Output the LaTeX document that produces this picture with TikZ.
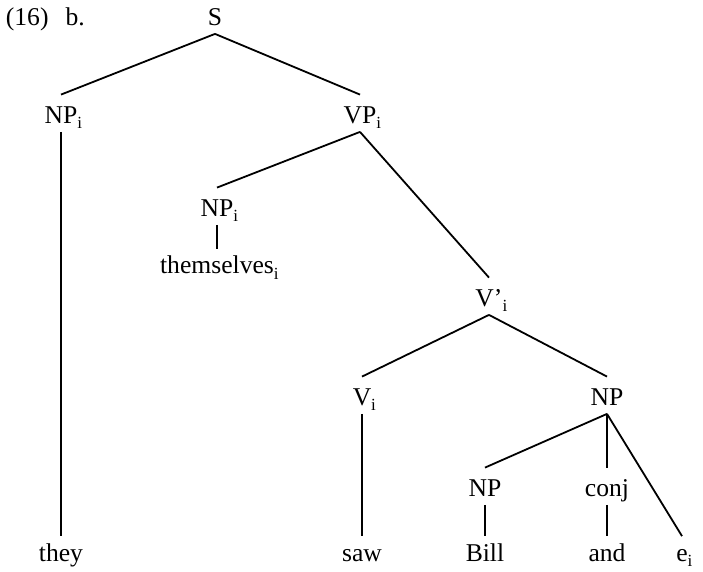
\documentclass[tikz,border=0pt]{standalone}
\usepackage{fontspec}
\setmainfont{Liberation Serif}
\usetikzlibrary{positioning}
% subscript index that takes no width
\newcommand{\lsub}{\rlap{\raisebox{-.45ex}{\fontsize{8.5}{8.5}\selectfont i}}}

\begin{document}
\begin{tikzpicture}[x=0.5pt, y=-0.5pt, line width=0.9pt,
    cat/.style={anchor=base, inner sep=0pt, text height=14pt, text depth=3.75pt,
        font=\fontsize{12.8}{14}\selectfont},
    word/.style={cat, text height=12.25pt}]
    \useasboundingbox (0,0) rectangle (703,572);

    % Example number
    \node[anchor=base west, inner sep=0pt, font=\fontsize{12.8}{14}\selectfont]
        (num) at (5,25.5) {(16)\hspace{8.5pt}b.};

    % Categories
    \node[cat] (S) at (215,25.5) {S};
    \node[cat] (NPa) at (61,123.5) {NP\lsub};
    \node[cat] (VP) at (360,123.5) {VP\lsub};
    \node[cat] (NPb) at (217,216.5) {NP\lsub};
    \node[cat] (Vbar) at (489,306.5) {V’\lsub};
    \node[cat] (V) at (362,405.5) {V\lsub};
    \node[cat] (NPc) at (607,405.5) {NP};
    \node[cat] (NPd) at (485,496.5) {NP};
    \node[cat] (conj) at (607,496.5) {conj};

    % Words
    \node[word] (they) at (61,561.5) {they};
    \node[word] (them) at (217,274) {themselves\lsub};
    \node[word] (saw) at (362,561.5) {saw};
    \node[word] (bill) at (485,561.5) {Bill};
    \node[word] (and) at (607,561.5) {and};
    \node[word] (e) at (682,561.5) {e\lsub};

    % Branches
    \draw (S.south) -- (NPa.north);
    \draw (S.south) -- (VP.north);
    \draw (NPa.south) -- (they.north);
    \draw (VP.south) -- (NPb.north);
    \draw (VP.south) -- (Vbar.north);
    \draw (NPb.south) -- (them.north);
    \draw (Vbar.south) -- (V.north);
    \draw (Vbar.south) -- (NPc.north);
    \draw (V.south) -- (saw.north);
    \draw (NPc.south) -- (NPd.north);
    \draw (NPc.south) -- (conj.north);
    \draw (NPc.south) -- (e.north);
    \draw (NPd.south) -- (bill.north);
    \draw (conj.south) -- (and.north);
\end{tikzpicture}
\end{document}
